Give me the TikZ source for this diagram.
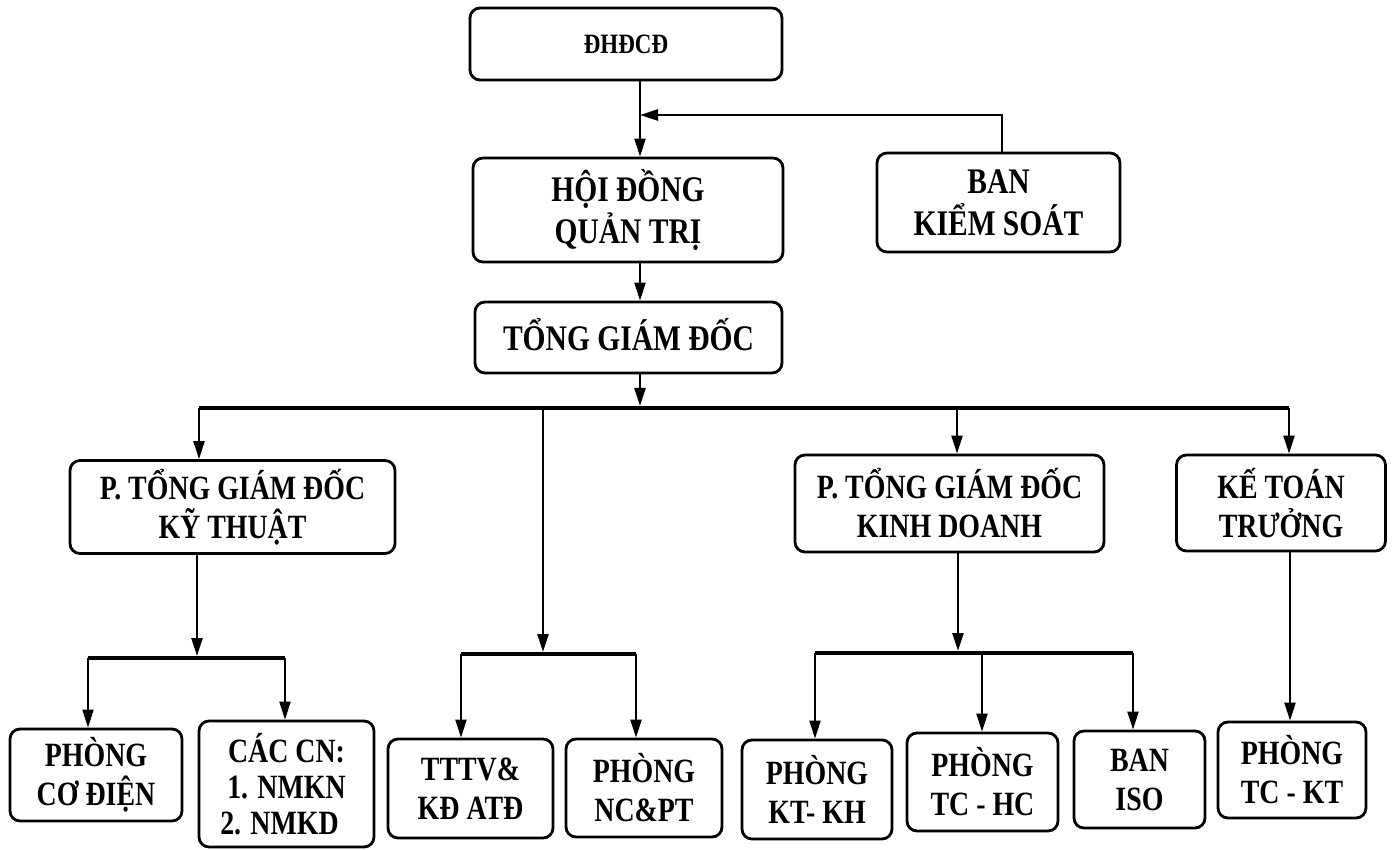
\documentclass[tikz,border=0pt]{standalone}
\usepackage{fontspec}
\setmainfont{Liberation Serif}[FakeStretch=0.82]
\usetikzlibrary{arrows.meta}
\begin{document}
\begin{tikzpicture}[x=1pt,y=-1pt,
  box/.style={draw, line width=2.8pt, rounded corners=10pt, align=center,
    font=\fontsize{34}{39}\selectfont\bfseries, inner sep=0pt},
  big/.style={font=\fontsize{36}{42}\selectfont\bfseries},
  con/.style={line width=2.4pt, -{Triangle[length=18pt,width=11pt]}},
  bus/.style={line width=4pt}]
\useasboundingbox (0,0) rectangle (1393,850);

% top
\node[box, minimum width=312pt, minimum height=72pt, font=\fontsize{28}{30}\selectfont\bfseries] (dh) at (626,44) {ĐHĐCĐ};
\node[box, big, minimum width=310pt, minimum height=104pt] (hdqt) at (628,210) {HỘI ĐỒNG\\QUẢN TRỊ};
\node[box, big, minimum width=243pt, minimum height=99pt] (bks) at (998.5,202.5) {BAN\\KIỂM SOÁT};
\node[box, big, minimum width=307pt, minimum height=71pt, text depth=6pt] (tgd) at (628.5,337.5) {TỔNG GIÁM ĐỐC};

% second row
\node[box, minimum width=325pt, minimum height=93pt] (ptkt) at (232.5,507) {P. TỔNG GIÁM ĐỐC\\KỸ THUẬT};
\node[box, minimum width=309pt, minimum height=97pt] (ptkd) at (949.5,503.5) {P. TỔNG GIÁM ĐỐC\\KINH DOANH};
\node[box, minimum width=209pt, minimum height=96pt] (ktt) at (1281,503) {KẾ TOÁN\\TRƯỞNG};

% bottom row
\node[box, minimum width=172pt, minimum height=92pt] (pcd) at (96,775) {PHÒNG\\CƠ ĐIỆN};
\node[box, minimum width=175pt, minimum height=126pt, font=\fontsize{34}{36}\selectfont\bfseries] (ccn) at (286.5,784) {CÁC CN:\\1. NMKN\\2. NMKD\hspace*{14pt}};
\node[box, minimum width=165pt, minimum height=99pt] (tttv) at (470.5,788.5) {TTTV\&\\KĐ ATĐ};
\node[box, minimum width=156pt, minimum height=98pt] (pnc) at (644,788) {PHÒNG\\NC\&PT};
\node[box, minimum width=150pt, minimum height=99pt] (ktkh) at (817,789.5) {PHÒNG\\KT- KH};
\node[box, minimum width=151pt, minimum height=98pt] (tchc) at (982.5,782) {PHÒNG\\TC - HC};
\node[box, minimum width=131pt, minimum height=97pt] (iso) at (1139.5,779.5) {BAN\\ISO};
\node[box, minimum width=148pt, minimum height=96pt] (tckt) at (1292,770) {PHÒNG\\TC - KT};

% junction coordinates
\coordinate (xa) at (640,0);
\coordinate (xk) at (1002,0);
\coordinate (j1) at (640,115);
\coordinate (j2) at (640,406);
\coordinate (b1) at (199,408);
\coordinate (b2) at (1289,408);
\coordinate (bm) at (543,408);
\coordinate (bkd) at (957,408);
\coordinate (kx) at (197,0);
\coordinate (kc) at (197,656);
\coordinate (kl) at (88,658);
\coordinate (kr) at (285,658);
\coordinate (mc) at (543,652);
\coordinate (ml) at (461,654);
\coordinate (mr) at (636,654);
\coordinate (dx) at (958,0);
\coordinate (dc) at (958,651);
\coordinate (dl) at (815,653);
\coordinate (dm) at (982,653);
\coordinate (dr) at (1133,653);
\coordinate (tx) at (1290,0);

% buses
\draw[bus] (b1) -- (b2);
\draw[bus] (kl) -- (kr);
\draw[bus] (ml) -- (mr);
\draw[bus] (dl) -- (dr);

% connectors
\draw[con] (dh.south -| xa) -- (hdqt.north -| xa);
\draw[con] (bks.north -| xk) |- (j1);
\draw[con] (hdqt.south -| xa) -- (tgd.north -| xa);
\draw[con] (tgd.south -| xa) -- (j2);
\draw[con] (b1) -- (ptkt.north -| b1);
\draw[con] (bm) -- (mc);
\draw[con] (bkd) -- (ptkd.north -| bkd);
\draw[con] (b2) -- (ktt.north -| b2);
\draw[con] (ptkt.south -| kx) -- (kc);
\draw[con] (kl) -- (pcd.north -| kl);
\draw[con] (kr) -- (ccn.north -| kr);
\draw[con] (ml) -- (tttv.north -| ml);
\draw[con] (mr) -- (pnc.north -| mr);
\draw[con] (ptkd.south -| dx) -- (dc);
\draw[con] (dl) -- (ktkh.north -| dl);
\draw[con] (dm) -- (tchc.north -| dm);
\draw[con] (dr) -- (iso.north -| dr);
\draw[con] (ktt.south -| tx) -- (tckt.north -| tx);
\end{tikzpicture}
\end{document}
